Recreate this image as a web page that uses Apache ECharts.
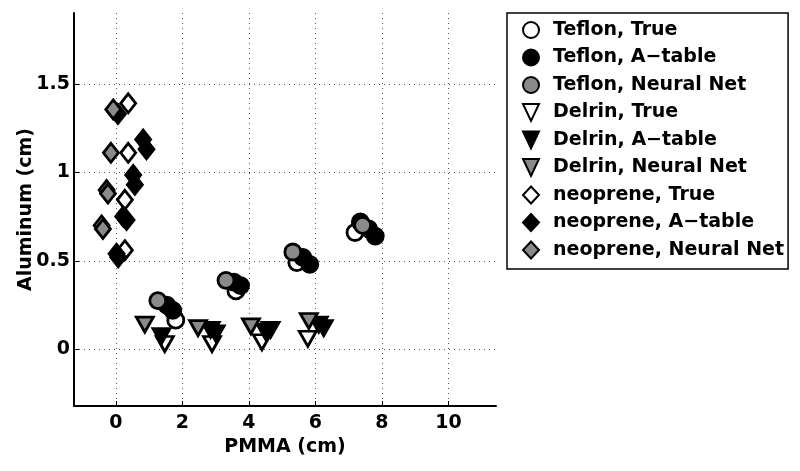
<!DOCTYPE html>
<html>
<head>
<meta charset="utf-8">
<script src="https://cdn.jsdelivr.net/npm/echarts@6/dist/echarts.min.js"></script>
<style>
  html, body { margin: 0; background: #fff; }
  #chart { width: 800px; height: 471px; }
</style>
</head>
<body>
<div id="chart"></div>
<script>
// values: [PMMA, Aluminum] in cm
const teflonTrue = [[1.80, 0.165], [3.61, 0.33], [5.44, 0.49], [7.19, 0.66]]
const teflonATable = [[1.53, 0.25], [1.71, 0.22], [3.55, 0.38], [3.75, 0.36], [5.62, 0.52], [5.83, 0.48], [7.35, 0.72], [7.60, 0.68], [7.80, 0.64]]
const teflonNN = [[1.26, 0.275], [3.31, 0.39], [5.32, 0.55], [7.42, 0.70]]

const delrinTrue = [[1.47, 0.03], [2.89, 0.03], [4.39, 0.04], [5.77, 0.06]]
const delrinATable = [[1.37, 0.075], [2.85, 0.11], [3.00, 0.09], [4.50, 0.10], [4.65, 0.11], [6.10, 0.14], [6.25, 0.12]]
const delrinNN = [[0.87, 0.14], [2.47, 0.12], [4.06, 0.13], [5.80, 0.16]]

const neopreneTrue = [[0.37, 1.39], [0.37, 1.11], [0.27, 0.845], [0.27, 0.56]]
const neopreneATable = [[0.06, 1.33], [0.82, 1.185], [0.92, 1.13], [0.52, 0.985], [0.57, 0.93], [0.22, 0.75], [0.32, 0.73], [0.02, 0.54], [0.07, 0.52]]
const neopreneNN = [[-0.08, 1.355], [-0.15, 1.11], [-0.28, 0.90], [-0.24, 0.88], [-0.43, 0.70], [-0.39, 0.68]]

const xTicks = [0, 2, 4, 6, 8, 10]
const yTicks = [0, 0.5, 1, 1.5]

const FONT = 'DejaVu Sans'
const GREY = '#8a8a8a'
const DOWN_TRI = 'path://M0,0 L2,0 L1,2 Z'

function mk(name, data, symbol, size, fill, rotate) {
  return {
    name: name,
    type: 'scatter',
    data: data,
    symbol: symbol,
    symbolSize: size,
    symbolRotate: rotate || 0,
    itemStyle: { color: fill, borderColor: '#000', borderWidth: 2.8, opacity: 1 },
    emphasis: { disabled: true }
  }
}

const series = [
  mk('Teflon, True', teflonTrue, 'circle', 16, '#fff'),
  mk('Teflon, A\u2212table', teflonATable, 'circle', 16, '#000'),
  mk('Teflon, Neural Net', teflonNN, 'circle', 16, GREY),
  mk('Delrin, True', delrinTrue, 'triangle', [17, 15], '#fff', 180),
  mk('Delrin, A\u2212table', delrinATable, 'triangle', [17, 15], '#000', 180),
  mk('Delrin, Neural Net', delrinNN, 'triangle', [17, 15], GREY, 180),
  mk('neoprene, True', neopreneTrue, 'diamond', [15, 19], '#fff'),
  mk('neoprene, A\u2212table', neopreneATable, 'diamond', [15, 19], '#000'),
  mk('neoprene, Neural Net', neopreneNN, 'diamond', [15, 19], GREY)
]

const legendData = series.map(function (s) {
  return s.symbol === 'triangle' ? { name: s.name, icon: DOWN_TRI } : { name: s.name }
})

const chart = echarts.init(document.getElementById('chart'))

chart.setOption({
  backgroundColor: '#ffffff',
  animation: false,
  grid: { left: 74, right: 304, top: 13, bottom: 65 },
  legend: {
    data: legendData,
    orient: 'vertical',
    left: 507,
    top: 13,
    padding: [7, 4, 9, 15],
    itemGap: 7.5,
    itemWidth: 16,
    itemHeight: 17,
    symbolKeepAspect: false,
    borderColor: '#000',
    borderWidth: 1.5,
    backgroundColor: '#fff',
    selectedMode: false,
    textStyle: { fontFamily: FONT, fontWeight: 'bold', fontSize: 19, color: '#000', lineHeight: 20, padding: [0, 0, 0, 9] }
  },
  xAxis: {
    type: 'value',
    min: -1.26,
    max: 11.43,
    name: 'PMMA (cm)',
    nameLocation: 'middle',
    nameGap: 28,
    nameTextStyle: { fontFamily: FONT, fontWeight: 'bold', fontSize: 19, color: '#000' },
    axisLine: { onZero: false, lineStyle: { color: '#000', width: 2 } },
    axisTick: { inside: true, length: 5, customValues: xTicks, lineStyle: { color: '#000' } },
    axisLabel: { customValues: xTicks, margin: 8, fontFamily: FONT, fontWeight: 'bold', fontSize: 19, color: '#000' },
    splitLine: { show: true, lineStyle: { type: [1, 4], color: '#555', width: 1 } }
  },
  yAxis: {
    type: 'value',
    min: -0.32,
    max: 1.90,
    name: 'Aluminum (cm)',
    nameLocation: 'middle',
    nameGap: 38,
    nameMoveOverlap: false,
    nameTextStyle: { fontFamily: FONT, fontWeight: 'bold', fontSize: 19, color: '#000' },
    axisLine: { show: true, onZero: false, lineStyle: { color: '#000', width: 2 } },
    axisTick: { show: true, inside: true, length: 5, customValues: yTicks, lineStyle: { color: '#000' } },
    axisLabel: { customValues: yTicks, margin: 4, fontFamily: FONT, fontWeight: 'bold', fontSize: 19, color: '#000' },
    splitLine: { show: true, lineStyle: { type: [1, 4], color: '#555', width: 1 } }
  },
  series: series
})
</script>
</body>
</html>
